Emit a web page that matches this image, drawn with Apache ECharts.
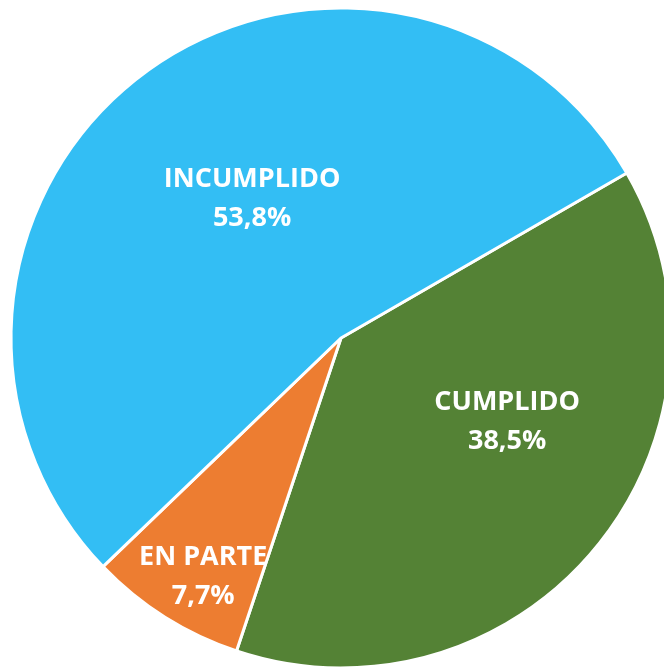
<!DOCTYPE html>
<html>
<head>
<meta charset="utf-8">
<script src="https://cdn.jsdelivr.net/npm/echarts@6/dist/echarts.min.js"></script>
<style>
  html, body { margin: 0; padding: 0; background: #fff; }
  #chart { width: 664px; height: 668px; }
</style>
</head>
<body>
<div id="chart"></div>
<script>
// Estado de cumplimiento — 13 items in total.
const categories = ['CUMPLIDO', 'EN PARTE', 'INCUMPLIDO'];
const counts = [5, 1, 7];
const colors = ['#548235', '#ED7D31', '#33BEF4'];
// label nudges, px from the default inside spot (Excel placed these by hand)
const labelOffsets = [[36, -22], [-48, 97], [12, -5]];

const total = counts.reduce((a, b) => a + b, 0);
// plain rounding per slice, like Excel (ECharts' own percent rebalances to 100)
const pct = v => (v / total * 100).toFixed(1).replace('.', ',') + '%';

const c = echarts.init(document.getElementById('chart'), null, { renderer: 'canvas' });

c.setOption({
  animation: false,
  series: [{
    type: 'pie',
    center: [341, 338],
    radius: [0, 330],
    startAngle: 30,
    clockwise: true,
    itemStyle: { borderColor: '#fff', borderWidth: 3 },
    label: {
      show: true,
      position: 'inside',
      color: '#fff',
      fontFamily: 'Open Sans',
      fontWeight: 'bold',
      fontSize: 27,
      lineHeight: 39,
      formatter: p => p.name + '\n' + pct(p.value),
    },
    labelLine: { show: false },
    emphasis: { disabled: true },
    data: categories.map((name, i) => ({
      name,
      value: counts[i],
      itemStyle: { color: colors[i] },
      label: { offset: labelOffsets[i] },
    })),
  }],
});
</script>
</body>
</html>
